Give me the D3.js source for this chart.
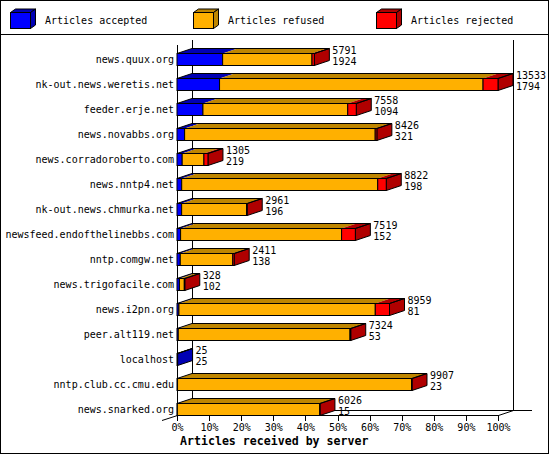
<!DOCTYPE html>
<html><head><meta charset="utf-8">
<script src="https://cdn.jsdelivr.net/npm/d3@7"></script>
<style>
body{margin:0;background:#fff;}
svg{display:block;font-family:"DejaVu Sans Mono",monospace;}
</style></head><body>
<svg id="c" width="550" height="455"></svg>
<script>
const categories = ["news.quux.org","nk-out.news.weretis.net","feeder.erje.net","news.novabbs.org","news.corradoroberto.com","news.nntp4.net","nk-out.news.chmurka.net","newsfeed.endofthelinebbs.com","nntp.comgw.net","news.trigofacile.com","news.i2pn.org","peer.alt119.net","localhost","nntp.club.cc.cmu.edu","news.snarked.org"];
const totals   = [5791,13533,7558,8426,1305,8822,2961,7519,2411,328,8959,7324,25,9907,6026];
const accepted = [1924,1794,1094,321,219,198,196,152,138,102,81,53,25,23,15];
const refused  = [3767,11109,6104,8035,916,8264,2735,6787,2213,206,8278,7241,0,9864,6001];
const rejected = [100,630,360,70,170,360,30,580,60,20,600,30,0,20,10];
const seriesNames = ["Articles accepted","Articles refused","Articles rejected"];
const pctTicks = [0,10,20,30,40,50,60,70,80,90,100];
const axisTitle = "Articles received by server";

const front = ["#0000ff","#ffb000","#ff0000"];
const top_ = ["#0000b4","#bf8600","#b00000"];
const DX = 15, DY = -5, BH = 12;

const svg = d3.select("#c");
const x = d3.scaleLinear().domain([0, d3.max(totals)]).range([177, 498]);
const xp = d3.scaleLinear().domain([0, 100]).range([177, 498]);
const y = d3.scalePoint().domain(categories).range([59, 409]);

// frame
svg.append("rect").attr("x",0.5).attr("y",0.5).attr("width",548).attr("height",453)
  .attr("fill","#fff").attr("stroke","#000");
svg.append("line").attr("x1",0).attr("x2",549).attr("y1",34.5).attr("y2",34.5).attr("stroke","#000");

// legend
const lg = svg.append("g");
seriesNames.forEach((n,i)=>{
  const lx = 10 + i*183;
  const g = lg.append("g").attr("transform",`translate(${lx},0)`);
  g.append("polygon").attr("points","0.5,12.5 5.5,9 25.5,9 20.5,12.5").attr("fill",top_[i]).attr("stroke","#000");
  g.append("polygon").attr("points","20.5,12.5 25.5,9 25.5,25 20.5,28.5").attr("fill",top_[i]).attr("stroke","#000");
  g.append("rect").attr("x",0.5).attr("y",12.5).attr("width",20).attr("height",16).attr("fill",front[i]).attr("stroke","#000");
  g.append("text").attr("x",35).attr("y",20).attr("dy","0.36em").attr("font-size","10px").text(n);
});

// axes frame
const ax = svg.append("g").attr("stroke","#000").attr("shape-rendering","crispEdges");
ax.append("line").attr("x1",192.5).attr("x2",192.5).attr("y1",40).attr("y2",410.5);
ax.append("line").attr("x1",513.5).attr("x2",513.5).attr("y1",40).attr("y2",410.5);
ax.append("line").attr("x1",192.5).attr("x2",532).attr("y1",410.5).attr("y2",410.5);
ax.append("line").attr("x1",177.5).attr("x2",177.5).attr("y1",45).attr("y2",415.5);
ax.append("line").attr("x1",177.5).attr("x2",498.5).attr("y1",415.5).attr("y2",415.5);
svg.append("line").attr("x1",498.5).attr("y1",415.5).attr("x2",513.5).attr("y2",410.5).attr("stroke","#000");
svg.append("line").attr("x1",162).attr("y1",420.5).attr("x2",177.5).attr("y2",415.5).attr("stroke","#000");

// bars
const bars = svg.append("g");
categories.forEach((c,i)=>{
  const vals = [accepted[i], refused[i], rejected[i]];
  const yc = y(c);
  const y0 = Math.round(yc - BH/2) + 0.5, y1 = y0 + BH;
  const g = bars.append("g");
  let cum = 0;
  const segs = vals.map((v,k)=>{ const a = x(cum), b = x(cum+v); cum += v; return {a,b,k}; });
  const xs = x(0), xe = x(totals[i]);
  // top faces
  segs.forEach(s=>{
    if (s.b - s.a <= 0) return;
    g.append("polygon").attr("points",`${s.a},${y0} ${s.a+DX},${y0+DY} ${s.b+DX},${y0+DY} ${s.b},${y0}`)
      .attr("fill",top_[s.k]);
  });
  // side face (last non-empty segment)
  let last = segs.filter(s=>s.b-s.a>0).pop();
  const sideCol = top_[last ? last.k : 2];
  g.append("polygon").attr("points",`${xe},${y0} ${xe+DX},${y0+DY} ${xe+DX},${y1+DY} ${xe},${y1}`)
    .attr("fill",sideCol).attr("stroke","#000");
  g.append("polyline").attr("points",`${xs},${y0} ${xs+DX},${y0+DY} ${xe+DX},${y0+DY} ${xe},${y0}`)
    .attr("fill","none").attr("stroke","#000");
  // front faces
  segs.forEach(s=>{
    if (s.b - s.a <= 0) return;
    g.append("rect").attr("x",s.a).attr("y",y0).attr("width",s.b-s.a).attr("height",BH)
      .attr("fill",front[s.k]).attr("stroke","#000");
  });
  // value labels
  g.append("text").attr("x",xe+DX+3).attr("y",yc-9).attr("dy","0.36em").attr("font-size","10px").text(totals[i]);
  g.append("text").attr("x",xe+DX+3).attr("y",yc+2).attr("dy","0.36em").attr("font-size","10px").text(accepted[i]);
});

// category labels
svg.append("g").selectAll("text").data(categories).join("text")
  .attr("x",174).attr("y",d=>y(d)).attr("dy","0.36em").attr("text-anchor","end")
  .attr("font-size","10px").text(d=>d);

// x axis
const axis = d3.axisBottom(xp).tickValues(pctTicks).tickSize(5).tickPadding(3).tickFormat(d=>d+"%");
const ga = svg.append("g").attr("transform","translate(0,415.5)").call(axis);
ga.select(".domain").remove();
ga.selectAll("text").attr("font-family","DejaVu Sans Mono").attr("font-size","10px").attr("fill","#000");
ga.selectAll("line").attr("stroke","#000").attr("shape-rendering","crispEdges");

svg.append("text").attr("x",180).attr("y",441).attr("dy","0.36em").attr("font-size","11.6px")
  .attr("font-weight","bold").text(axisTitle);
</script>
</body></html>
